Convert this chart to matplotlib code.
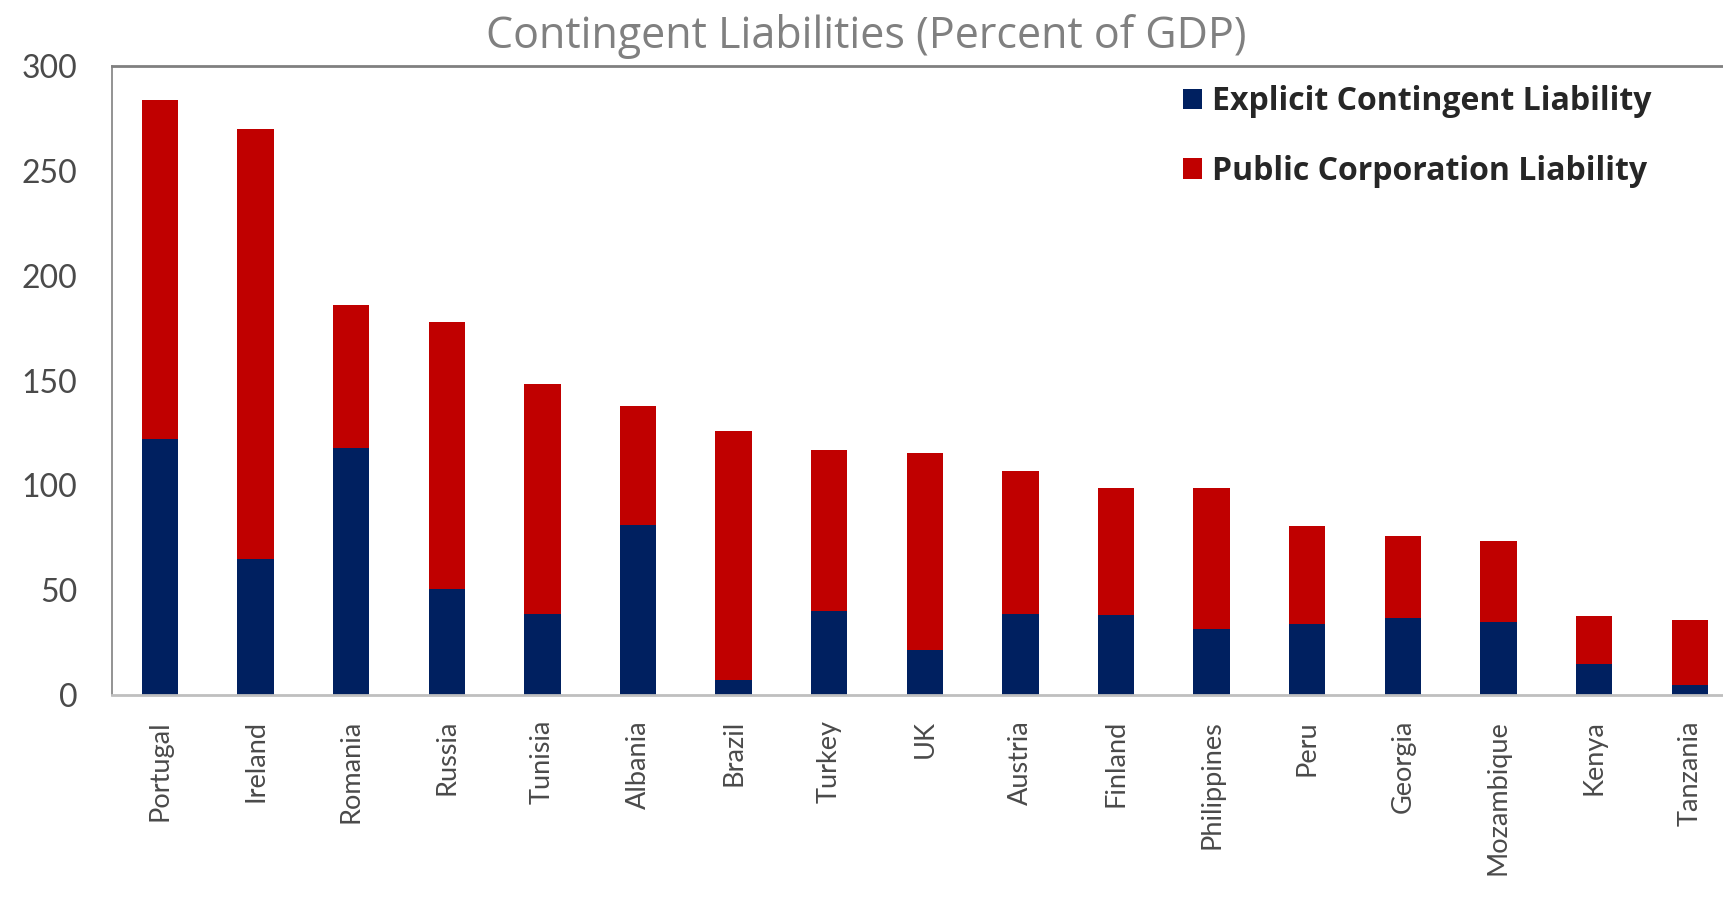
import matplotlib
matplotlib.use("Agg")
import matplotlib.pyplot as plt
from matplotlib.patches import Patch
import numpy as np

plt.rcParams['font.family'] = ['Lato', 'DejaVu Sans']

countries = ["Portugal", "Ireland", "Romania", "Russia", "Tunisia", "Albania",
             "Brazil", "Turkey", "UK", "Austria", "Finland", "Philippines",
             "Peru", "Georgia", "Mozambique", "Kenya", "Tanzania"]
totals = [284, 270, 186, 178, 148.5, 138, 126, 117, 115.5, 107, 98.7, 98.7,
          80.7, 76, 73.6, 37.7, 36]
explicit = [122, 65, 118, 50.5, 38.6, 81, 7, 40, 21.5, 38.6, 38, 31.5,
            34, 36.7, 35, 15, 5]
public_corp = [t - e for t, e in zip(totals, explicit)]

blue = "#002060"
red = "#C00000"

fig = plt.figure(figsize=(17.23, 9.22), dpi=100)
ax = fig.add_axes([0.0651, 0.2462, 0.9433, 0.6822])

x = np.arange(len(countries))
ax.bar(x, explicit, width=0.38, color=blue)
ax.bar(x, public_corp, width=0.38, bottom=explicit, color=red)

ax.set_xlim(-0.5, len(countries) - 0.5)
ax.set_ylim(0, 300)
ax.set_yticks(np.arange(0, 301, 50))
ax.set_xticks(x)
ax.set_xticklabels(countries, rotation=90)

ax.tick_params(axis='y', length=0, pad=25, labelsize=23, labelcolor="#4a4a4a")
ax.tick_params(axis='x', length=0, pad=18, labelsize=19.5, labelcolor="#4a4a4a")

ax.spines['right'].set_visible(False)
ax.spines['top'].set_color("#808080")
ax.spines['top'].set_linewidth(2)
ax.spines['left'].set_color("#808080")
ax.spines['left'].set_linewidth(1.2)
ax.spines['bottom'].set_color("#bfbfbf")
ax.spines['bottom'].set_linewidth(2)

fig.text(0.503, 0.96, "Contingent Liabilities (Percent of GDP)", ha='center',
         va='center', fontsize=31, color="#808080", family='Open Sans')

handles = [Patch(facecolor=blue, label="Explicit Contingent Liability"),
           Patch(facecolor=red, label="Public Corporation Liability")]
leg = ax.legend(handles=handles, loc='upper left', frameon=False,
                bbox_to_anchor=(1183 / 1723, 1 - 85 / 922),
                bbox_transform=fig.transFigure,
                prop={'family': 'Open Sans', 'weight': 'bold', 'size': 23},
                handlelength=0.6, handleheight=0.6, handletextpad=0.3,
                labelspacing=1.15, borderpad=0, borderaxespad=0)
for t in leg.get_texts():
    t.set_color("#262626")

fig.savefig("out.png", dpi=100)
